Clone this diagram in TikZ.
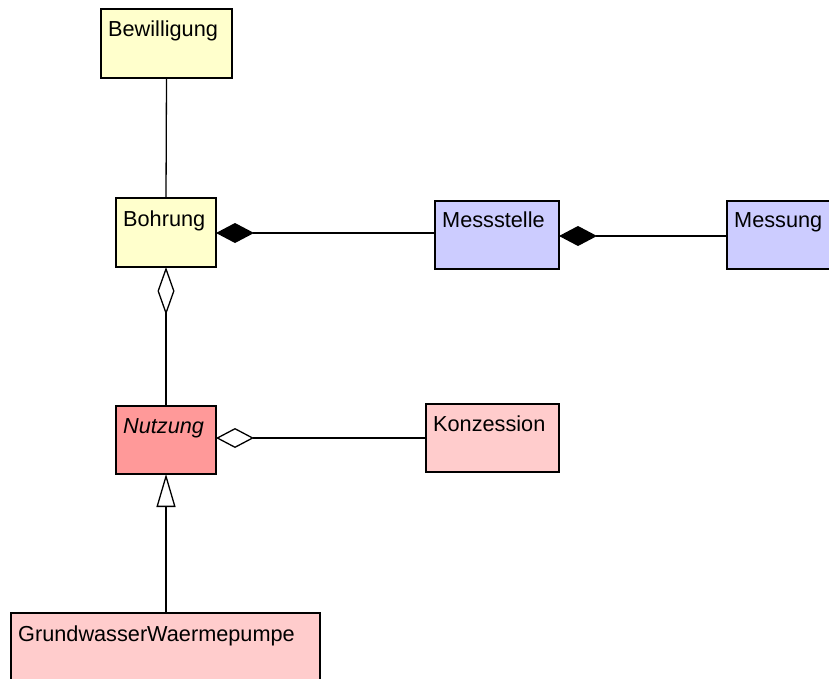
\documentclass[tikz,border=0pt]{standalone}
\usepackage{fontspec}
\setmainfont{Liberation Sans}
\usetikzlibrary{arrows.meta,calc}
\definecolor{yel}{HTML}{FFFFCC}
\definecolor{blu}{HTML}{CCCCFF}
\definecolor{red1}{HTML}{FF9999}
\definecolor{red2}{HTML}{FFCCCC}
\tikzset{
  umlbox/.style={draw=black, line width=1.5pt, anchor=north west, inner sep=0pt, outer sep=0pt},
  umltext/.style={anchor=base west, inner sep=0pt, font=\fontsize{21.7}{26}\selectfont},
  conn/.style={line width=1.3pt, draw=black},
  compo/.style={conn, {Diamond[length=38pt,width=20pt,fill=black]}-},
  aggro/.style={conn, {Diamond[open,length=38pt,width=20pt,fill=white]}-},
  aggrv/.style={conn, {Diamond[open,length=48pt,width=17pt,fill=white]}-},
  gener/.style={conn, -{Triangle[open,length=33pt,width=19pt,fill=white]}}
}
\begin{document}
\begin{tikzpicture}[x=1pt,y=-1pt]
\useasboundingbox (0,0) rectangle (829,679);
% boxes
\node[umlbox, fill=yel, minimum width=131pt, minimum height=69pt] (bew) at (101,9) {};
\node[umlbox, fill=yel, minimum width=100pt, minimum height=69pt] (bohr) at (116,198) {};
\node[umlbox, fill=blu, minimum width=124pt, minimum height=68pt] (mess) at (435,201) {};
\node[umlbox, fill=blu, minimum width=110pt, minimum height=68pt] (messung) at (727,201) {};
\node[umlbox, fill=red1, minimum width=100pt, minimum height=68pt] (nutz) at (116,406) {};
\node[umlbox, fill=red2, minimum width=133pt, minimum height=68pt] (konz) at (426,404) {};
\node[umlbox, fill=red2, minimum width=309pt, minimum height=80pt] (gww) at (11,613) {};
% texts
\node[umltext] (bewt) at ($(bew.north west)+(7,28)$) {Bewilligung};
\node[umltext] (bohrt) at ($(bohr.north west)+(7,28)$) {Bohrung};
\node[umltext] (messt) at ($(mess.north west)+(7,26)$) {Messstelle};
\node[umltext] (messungt) at ($(messung.north west)+(7,26)$) {Messung};
\node[umltext] (nutzt) at ($(nutz.north west)+(7,27)$) {\itshape Nutzung};
\node[umltext] (konzt) at ($(konz.north west)+(7,27)$) {Konzession};
\node[umltext] (gwwt) at ($(gww.north west)+(7,28)$) {GrundwasserWaermepumpe};
% connectors
\draw[conn] (bew.south) -- (bohr.north);
\coordinate (c1) at ($(bohr.east)+(0,0.5)$);
\draw[compo] (c1) -- (c1 -| mess.west);
\coordinate (c2) at ($(mess.east)+(0,1)$);
\draw[compo] (c2) -- (c2 -| messung.west);
\draw[aggrv] (bohr.south) -- (nutz.north);
\draw[aggro] (konz.west -| nutz.east) -- (konz.west);
\draw[gener] (gww.north -| nutz.south) -- (nutz.south);
\end{tikzpicture}
\end{document}
